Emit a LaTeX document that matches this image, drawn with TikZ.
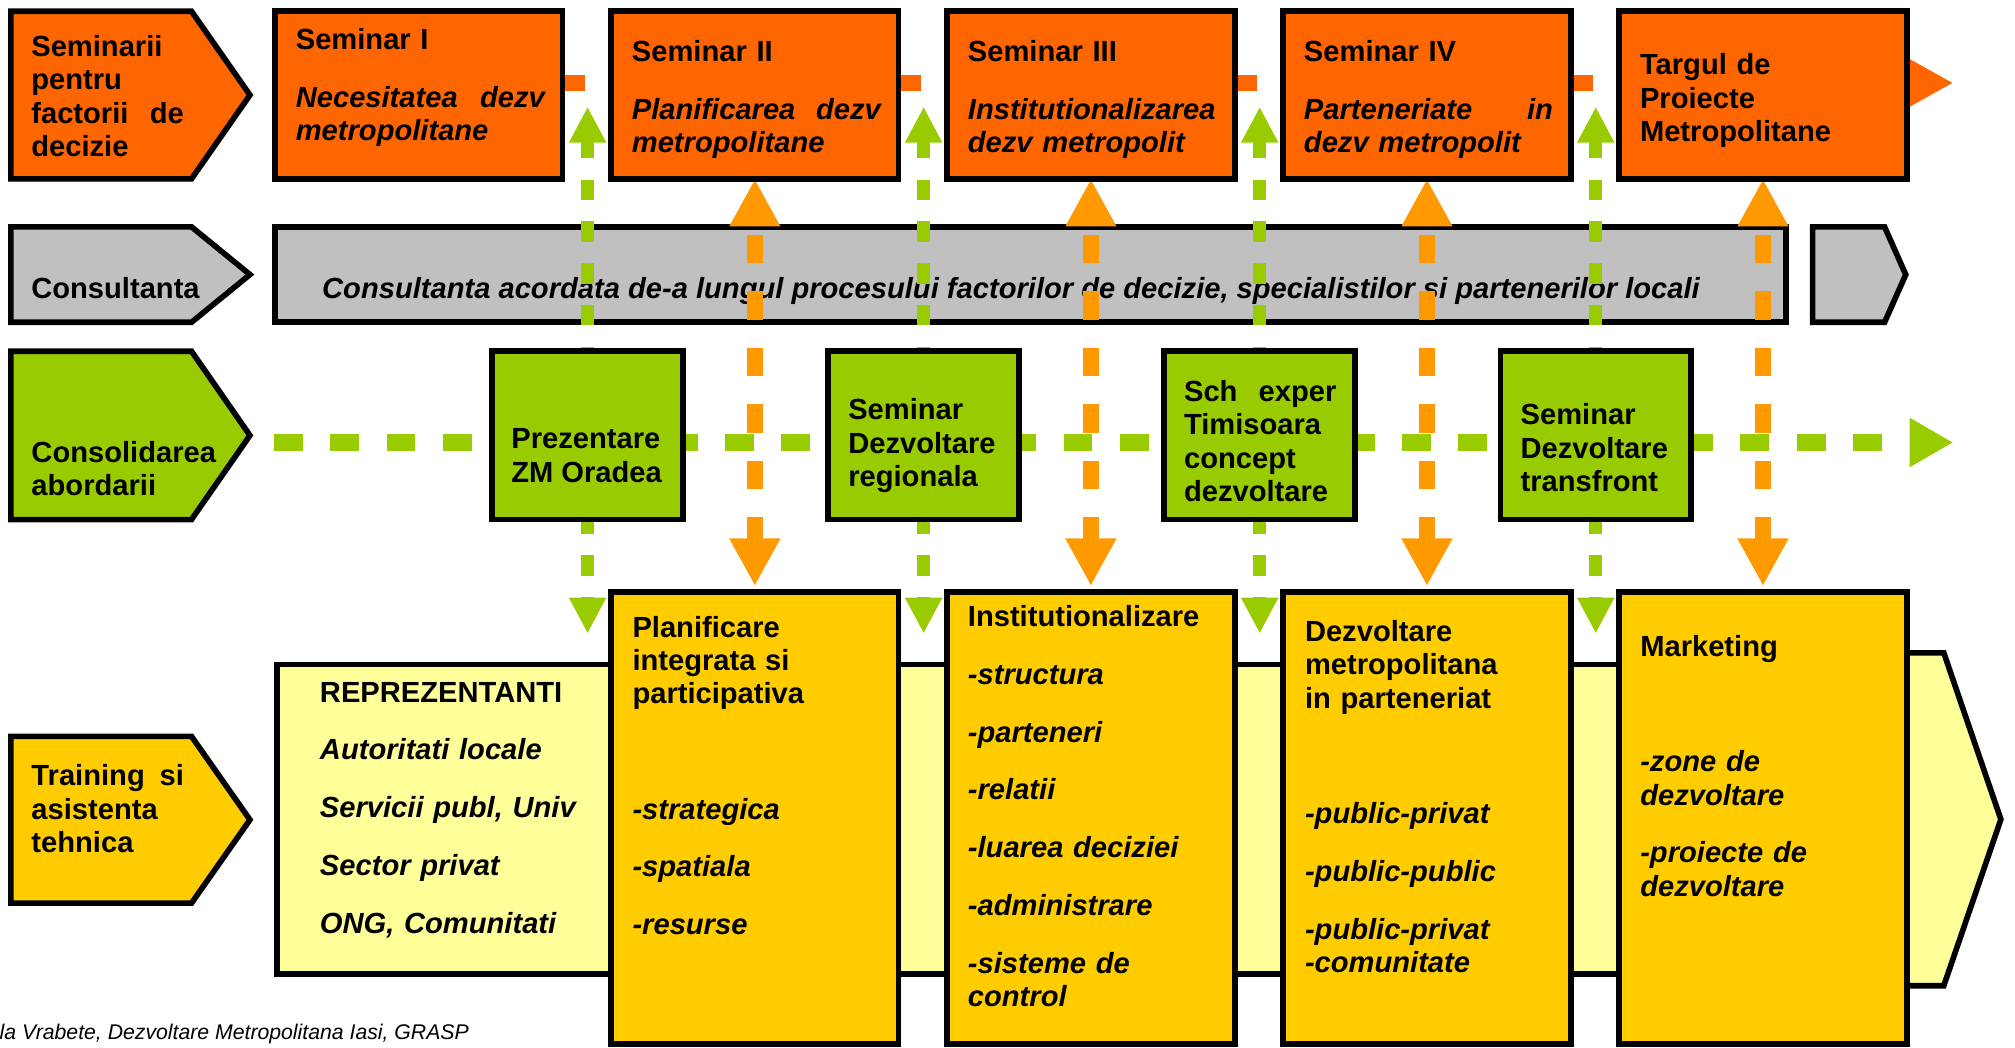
\documentclass[tikz,border=0pt]{standalone}
\usepackage{fontspec}
\setmainfont{Liberation Sans}
\usetikzlibrary{arrows.meta}
\definecolor{semorange}{HTML}{FF6600}
\definecolor{arrorange}{HTML}{FF9900}
\definecolor{consgray}{HTML}{C0C0C0}
\definecolor{consgreen}{HTML}{99CC00}
\definecolor{traingold}{HTML}{FFCC00}
\definecolor{trainlight}{HTML}{FFFF99}
\pgfdeclarelayer{base}
\pgfdeclarelayer{lines}
\pgfsetlayers{base,lines,main}
\newcommand{\listgap}{\\[5.4pt]}
\newcommand{\blockgap}{\\[18.1pt]}
\tikzset{
  frame/.style = {draw, line width=1.25pt},
  box/.style = {frame, inner sep=0pt, outer sep=0pt, anchor=north west},
  semibox/.style = {box, fill=semorange, minimum width=22.38mm, minimum height=13.05mm},
  greenbox/.style = {box, fill=consgreen, minimum width=14.85mm, minimum height=13.1mm},
  goldbox/.style = {box, fill=traingold, minimum width=22.38mm, minimum height=35.18mm},
  txt/.style = {anchor=north west, inner sep=0pt, align=left,
    font=\fontsize{6.45}{7.4}\selectfont\bfseries},
  widetxt/.style = {txt, text width=19.38mm},
  narrowtxt/.style = {txt, text width=11.86mm},
  orflow/.style = {draw=semorange, line width=1.3mm, dash pattern=on 2.2mm off 2.16mm,
    -{Triangle[length=3.4mm, width=3.45mm]}},
  grflow/.style = {draw=consgreen, line width=1.3mm, dash pattern=on 2.25mm off 2.14mm,
    -{Triangle[length=3.4mm, width=3.6mm]}},
  orlink/.style = {draw=arrorange, line width=1.3mm, dash pattern=on 2.2mm off 2.2mm,
    dash phase=3.52mm, shorten >=0.46mm,
    {Triangle[length=3.7mm, width=3.7mm]}-{Triangle[length=3.7mm, width=3.7mm]}},
  grlink/.style = {draw=consgreen, line width=1mm, dash pattern=on 1.6mm off 1.65mm,
    dash phase=0.2mm,
    {Triangle[length=2.8mm, width=2.7mm]}-{Triangle[length=2.8mm, width=2.7mm]}},
}

\begin{document}
\begin{tikzpicture}[x=0.1mm, y=-0.1mm]
  \useasboundingbox (0,0) rectangle (1568,815);

  % row labels
  \foreach \ya/\yb/\col in {8.7/139.2/semorange, 176.5/250.8/consgray,
      273.3/404.3/consgreen, 573/702.8/traingold}
    \draw[frame, fill=\col] (8.5,\ya) -- (149,\ya) -- (194.5,{(\ya+\yb)/2})
      -- (149,\yb) -- (8.5,\yb) -- cycle;
  \node[narrowtxt] (l1) at (23.7,26.7) {Seminarii\\pentru\\factorii\hfill de\\decizie};
  \node[txt] (l2) at (23.7,215.3) {Consultanta};
  \node[txt] (l3) at (23.8,342.4) {Consolidarea\\abordarii};
  \node[narrowtxt] (l4) at (23.8,594.3) {Training\hfill si\\asistenta\\tehnica};

  % seminars
  \node[semibox] (s1) at (214,8.7) {};
  \node[semibox] (s2) at (475.5,8.7) {};
  \node[semibox] (s3) at (737,8.7) {};
  \node[semibox] (s4) at (998.5,8.7) {};
  \node[semibox] (s5) at (1260,8.7) {};
  \node[widetxt] (s1t) at (229.5,21.5)
    {Seminar I\listgap\itshape Necesitatea\hfill dezv\\metropolitane};
  \node[widetxt] (s2t) at (491,30.6)
    {Seminar II\listgap\itshape Planificarea\hfill dezv\\metropolitane};
  \node[widetxt] (s3t) at (752.5,30.6)
    {Seminar III\listgap\itshape Institutionalizarea\\dezv metropolit};
  \node[widetxt] (s4t) at (1014,30.6)
    {Seminar IV\listgap\itshape Parteneriate\hfill in\\dezv metropolit};
  \node[widetxt] (s5t) at (1275.5,41) {Targul de\\Proiecte\\Metropolitane};

  % consultancy
  \begin{pgfonlayer}{base}
    \draw[frame, fill=consgray] (214,176.5) rectangle (1390,250.8);
    \draw[frame, fill=consgray] (1410.5,176.5) -- (1466.5,176.5) -- (1483,213.7)
      -- (1466.5,250.8) -- (1410.5,250.8) -- cycle;
    \node[txt, font=\fontsize{6.45}{7.4}\selectfont\bfseries\itshape] (ct) at (250,215.3)
      {Consultanta acordata de-a lungul procesului factorilor de decizie, specialistilor si partenerilor locali};
  \end{pgfonlayer}

  % consolidation
  \node[greenbox] (g1) at (383,273.3) {};
  \node[greenbox] (g2) at (644.5,273.3) {};
  \node[greenbox] (g3) at (906,273.3) {};
  \node[greenbox] (g4) at (1167.5,273.3) {};
  \node[txt] (g1t) at (397.2,332.8) {Prezentare\\ZM Oradea};
  \node[txt] (g2t) at (659.4,309.5) {Seminar\\Dezvoltare\\regionala};
  \node[narrowtxt] (g3t) at (920.7,295.2) {Sch\hfill exper\\Timisoara\\concept\\dezvoltare};
  \node[txt] (g4t) at (1182.6,313.4) {Seminar\\Dezvoltare\\transfront};

  % training
  \draw[frame, fill=trainlight] (215.7,517) rectangle (1420,758);
  \draw[frame, fill=trainlight] (1400,508) -- (1512.6,508) -- (1557,637.6)
    -- (1512.6,767) -- (1400,767) -- cycle;
  \node[goldbox] (p1) at (475.5,460.6) {};
  \node[goldbox] (p2) at (737,460.6) {};
  \node[goldbox] (p3) at (998.5,460.6) {};
  \node[goldbox] (p4) at (1260,460.6) {};
  \node[txt, text width=21mm] (rep) at (248.3,530)
    {REPREZENTANTI\listgap\itshape Autoritati locale\listgap Servicii publ, Univ\listgap
     Sector privat\listgap ONG, Comunitati};
  \node[widetxt] (p1t) at (491.5,478.6)
    {Planificare\\integrata si\\participativa\blockgap\itshape -strategica\listgap
     -spatiala\listgap -resurse};
  \node[widetxt] (p2t) at (752.5,470.3)
    {Institutionalizare\listgap\itshape -structura\listgap -parteneri\listgap -relatii\listgap
     -luarea deciziei\listgap -administrare\listgap -sisteme de\\control};
  \node[widetxt] (p3t) at (1014.8,482)
    {Dezvoltare\\metropolitana\\in parteneriat\blockgap\itshape -public-privat\listgap
     -public-public\listgap -public-privat\\-comunitate};
  \node[widetxt] (p4t) at (1275.7,493.7)
    {Marketing\blockgap\itshape -zone de\\dezvoltare\listgap -proiecte de\\dezvoltare};

  % flows
  \begin{pgfonlayer}{lines}
    \coordinate (orstart) at (346,64.5);
    \coordinate (orend) at (1520,64.5);
    \draw[orflow] (orstart) -- (orend);
    \coordinate (grstart) at (213,344.3);
    \coordinate (grend) at (1520,344.3);
    \draw[grflow] (grstart) -- (grend);
    \foreach \src/\dst in {s2/p1, s3/p2, s4/p3, s5/p4}
      \draw[orlink] (\src.south) -- (\dst.north);
    \foreach \g in {g1,g2,g3,g4} {
      \path (\g.north) ++(0,-190.3) coordinate (\g up);
      \path (\g.south) ++(0,88.7) coordinate (\g down);
      \draw[grlink] (\g up) -- (\g down);
    }
  \end{pgfonlayer}

  \node[anchor=base west, inner sep=0pt, font=\fontsize{4.7}{5.5}\selectfont\itshape] (src)
    at (-1,808.8) {la Vrabete, Dezvoltare Metropolitana Iasi, GRASP};
\end{tikzpicture}
\end{document}
